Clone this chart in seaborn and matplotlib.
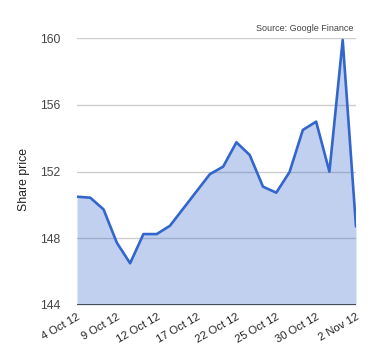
import matplotlib
matplotlib.use("Agg")
import matplotlib.pyplot as plt
import seaborn as sns
import pandas as pd

dates = ["4 Oct 12", "5 Oct 12", "8 Oct 12", "9 Oct 12", "10 Oct 12", "11 Oct 12",
         "12 Oct 12", "15 Oct 12", "16 Oct 12", "17 Oct 12", "18 Oct 12", "19 Oct 12",
         "22 Oct 12", "23 Oct 12", "24 Oct 12", "25 Oct 12", "26 Oct 12", "29 Oct 12",
         "30 Oct 12", "31 Oct 12", "1 Nov 12", "2 Nov 12"]
prices = [150.49, 150.43, 149.73, 147.73, 146.50, 148.25, 148.25, 148.75, 149.78,
          150.81, 151.84, 152.29, 153.75, 152.99, 151.09, 150.73, 151.97, 154.49,
          154.99, 151.99, 159.88, 148.70]
tick_labels = ["4 Oct 12", "9 Oct 12", "12 Oct 12", "17 Oct 12", "22 Oct 12",
               "25 Oct 12", "30 Oct 12", "2 Nov 12"]
y_ticks = [144, 148, 152, 156, 160]

df = pd.DataFrame({"date": dates, "price": prices, "idx": range(len(dates))})

sns.set_style("white")
plt.rcParams['font.family'] = ['Liberation Sans', 'DejaVu Sans']

fig = plt.figure(figsize=(3.8, 3.6), dpi=100)
ax = fig.add_axes([0.2026, 0.1528, 0.7342, 0.7416])

line_color = "#3366cc"
ax.fill_between(df["idx"], 144, df["price"], color=line_color, alpha=0.3, linewidth=0, zorder=2)
sns.lineplot(data=df, x="idx", y="price", ax=ax, color=line_color, linewidth=1.9, zorder=3)

ax.set_xlim(0, len(dates) - 1)
ax.set_ylim(144, 160)
ax.set_yticks(y_ticks)
ax.set_yticklabels([str(v) for v in y_ticks], fontsize=8.8, color="#444444")
for v in y_ticks[1:]:
    ax.axhline(v, color="#cccccc", linewidth=1, zorder=1)
ax.axhline(144, color="#333333", linewidth=1.2, zorder=4)

pos = [dates.index(t) for t in tick_labels]
ax.set_xticks(pos)
ax.set_xticklabels(tick_labels, rotation=30, ha="right", rotation_mode="anchor",
                   fontsize=8, color="#222222")
ax.tick_params(axis="x", length=0, pad=5)
ax.tick_params(axis="y", length=0, pad=12)

for s in ax.spines.values():
    s.set_visible(False)

ax.set_xlabel("")
ax.set_ylabel("Share price", fontsize=8.8, color="#222222")
ax.yaxis.set_label_coords(-0.17, 0.47)

fig.text(0.929, 0.922, "Source: Google Finance", ha="right", va="center",
         fontsize=6.5, color="#444444")

fig.savefig("out.png", dpi=100)
